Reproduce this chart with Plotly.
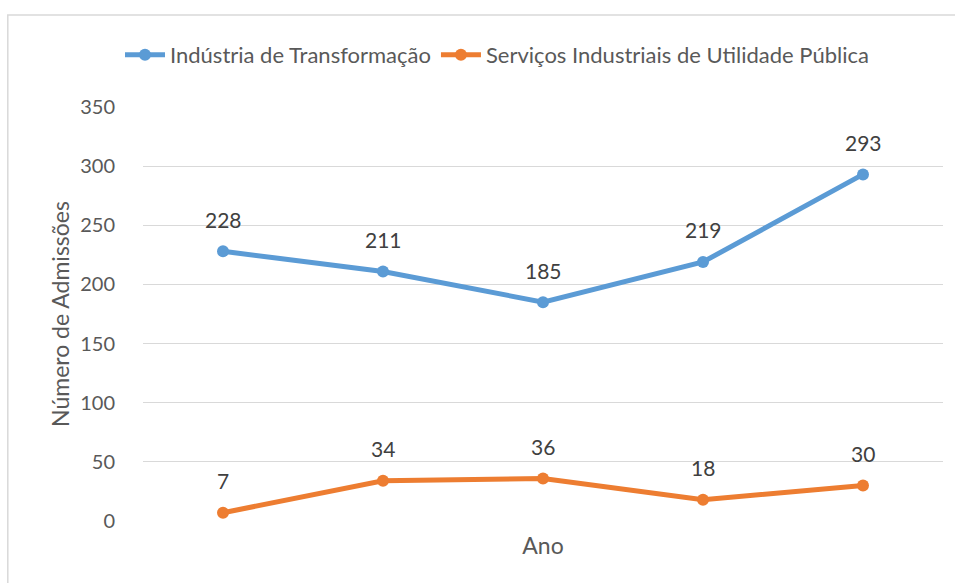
import plotly.graph_objects as go

categories = ["Ano 1", "Ano 2", "Ano 3", "Ano 4", "Ano 5"]
industria = [228, 211, 185, 219, 293]
servicos = [7, 34, 36, 18, 30]
series_names = ["Indústria de Transformação", "Serviços Industriais de Utilidade Pública"]

BLUE = "#5B9BD5"
ORANGE = "#ED7D31"
TXT = "#595959"
FONT = "Lato"

fig = go.Figure()
for name, vals, col in [(series_names[0], industria, BLUE), (series_names[1], servicos, ORANGE)]:
    fig.add_trace(go.Scatter(
        x=categories, y=vals, name=name, mode="lines+markers",
        line=dict(color=col, width=5),
        marker=dict(color=col, size=12),
    ))
    for c, v in zip(categories, vals):
        fig.add_annotation(x=c, y=v, text=str(v), showarrow=False, yshift=32,
                           font=dict(family=FONT, size=21, color="#404040"))

fig.add_shape(type="rect", xref="paper", yref="paper", x0=-0.169, x1=1.2, y0=-0.3, y1=1.222,
              line=dict(color="#D9D9D9", width=1.5), fillcolor="rgba(0,0,0,0)", layer="below")

fig.update_layout(
    width=955, height=583,
    margin=dict(l=143, r=12, t=107, b=62, autoexpand=False),
    paper_bgcolor="white", plot_bgcolor="white",
    font=dict(family=FONT, color=TXT, size=20),
    showlegend=True,
    legend=dict(orientation="h", x=0.4425, xanchor="center", y=1.126, yanchor="middle",
                font=dict(size=22, color=TXT), itemwidth=40, traceorder="normal"),
    xaxis=dict(type="category", showticklabels=False, showgrid=False, zeroline=False, showline=False,
               range=[-0.5, 4.5], automargin=False,
               title=dict(text="Ano", font=dict(size=23, color=TXT), standoff=16)),
    yaxis=dict(range=[0, 350], dtick=50, showgrid=True, gridcolor="#D9D9D9", gridwidth=1.3,
               zeroline=False, showline=False, ticks="outside", ticklen=23, tickcolor="rgba(0,0,0,0)",
               tickfont=dict(size=20, color=TXT), automargin=False,
               title=dict(text="Número de Admissões", font=dict(size=23, color=TXT), standoff=4)),
)

fig.write_html("out.html", config={"displayModeBar": False},
               post_script="document.body.style.margin='0px';")
